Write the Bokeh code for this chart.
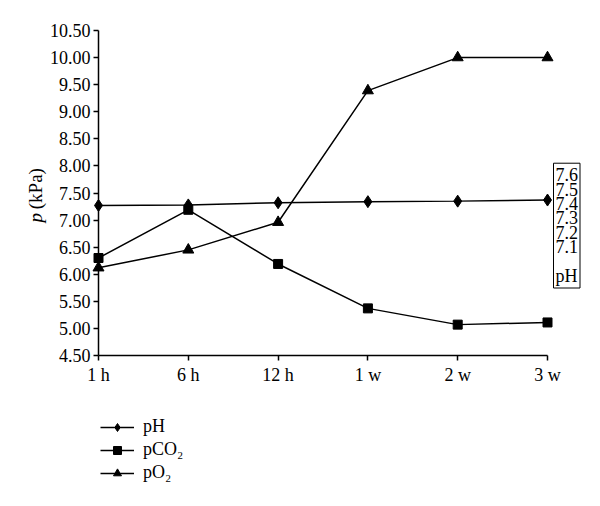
import math
from bokeh.plotting import figure
from bokeh.models import (Range1d, FixedTicker, NumeralTickFormatter, Legend, LegendItem, Label)
from bokeh.embed import file_html
from bokeh.resources import INLINE

categories = ["1 h", "6 h", "12 h", "1 w", "2 w", "3 w"]
ph = [7.27, 7.28, 7.32, 7.34, 7.35, 7.37]
pco2 = [6.30, 7.19, 6.19, 5.37, 5.07, 5.11]
po2 = [6.12, 6.45, 6.96, 9.39, 10.00, 10.00]
y_ticks = [4.5, 5.0, 5.5, 6.0, 6.5, 7.0, 7.5, 8.0, 8.5, 9.0, 9.5, 10.0, 10.5]
ph_scale_labels = ["7.6", "7.5", "7.4", "7.3", "7.2", "7.1", "", "pH"]

xs = list(range(len(categories)))
last = len(categories) - 1
FONT = "Liberation Serif"

# layout: the frame fills the whole canvas; axes are drawn at fixed data locations
W, H = 600, 506
ax_left_px, ax_right_px, ax_top_px, ax_bottom_px = 98, 547, 30, 355
y_lo, y_hi = y_ticks[0], y_ticks[-1]
ux = (ax_right_px - ax_left_px) / last
uy = (ax_bottom_px - ax_top_px) / (y_hi - y_lo)
x_range = Range1d(-ax_left_px / ux, last + (W - ax_right_px) / ux)
y_range = Range1d(y_lo - (H - ax_bottom_px) / uy, y_hi + ax_top_px / uy)

p = figure(width=W, height=H, output_backend="svg", toolbar_location=None,
           x_range=x_range, y_range=y_range, min_border=0)
p.outline_line_color = None
p.xgrid.grid_line_color = None
p.ygrid.grid_line_color = None

for ax in (p.xaxis[0], p.yaxis[0]):
    ax.axis_line_width = 1.5
    ax.major_tick_line_width = 1.5
    ax.major_tick_in = 0
    ax.major_tick_out = 5
    ax.minor_tick_line_color = None
    ax.major_label_text_font = FONT
    ax.major_label_text_font_size = "18px"
    ax.major_label_text_color = "black"

p.xaxis.fixed_location = y_lo
p.xaxis.bounds = (0, last)
p.xaxis.ticker = FixedTicker(ticks=xs)
p.xaxis.major_label_overrides = {i: c for i, c in enumerate(categories)}
p.xaxis.major_label_standoff = 4

p.yaxis.fixed_location = 0
p.yaxis.bounds = (y_lo, y_hi)
p.yaxis.ticker = FixedTicker(ticks=y_ticks)
p.yaxis.formatter = NumeralTickFormatter(format="0.00")
p.yaxis.major_label_standoff = 3

lw = 1.5
l1 = p.line(xs, ph, line_color="black", line_width=lw)
m1 = p.scatter(xs, ph, marker="diamond", size=12, color="black")
l2 = p.line(xs, pco2, line_color="black", line_width=lw)
m2 = p.scatter(xs, pco2, marker="square", size=9, color="black")
l3 = p.line(xs, po2, line_color="black", line_width=lw)
m3 = p.scatter(xs, po2, marker="triangle", size=11, color="black")

legend = Legend(items=[LegendItem(label="pH", renderers=[l1, m1]),
                       LegendItem(label="pCO\u2082", renderers=[l2, m2]),
                       LegendItem(label="pO\u2082", renderers=[l3, m3])],
                location=(100, 23), orientation="vertical",
                glyph_width=34, glyph_height=20, spacing=2, padding=0, margin=0,
                label_standoff=9, label_text_font=FONT, label_text_font_size="18px",
                label_text_color="black",
                border_line_color=None, background_fill_alpha=0)
p.add_layout(legend, "center")

# y-axis title: italic p + (kPa)
p.add_layout(Label(x=0, y=7.13, x_offset=-63, text="p", angle=math.pi / 2,
                   text_font=FONT, text_font_style="italic", text_font_size="19px",
                   text_color="black", text_align="right", text_baseline="middle"))
p.add_layout(Label(x=0, y=7.20, x_offset=-63, text="(kPa)", angle=math.pi / 2,
                   text_font=FONT, text_font_size="19px", text_color="black",
                   text_align="left", text_baseline="middle"))

# pH scale box at right
p.add_layout(Label(x=last, y=8.05, x_offset=6,
                   text="\n".join(ph_scale_labels),
                   text_font=FONT, text_font_size="18px", text_line_height=0.72,
                   text_color="black", text_align="left", text_baseline="top",
                   border_line_color="black", border_line_width=1, padding=2))

open("out.html", "w").write(file_html(p, INLINE))
